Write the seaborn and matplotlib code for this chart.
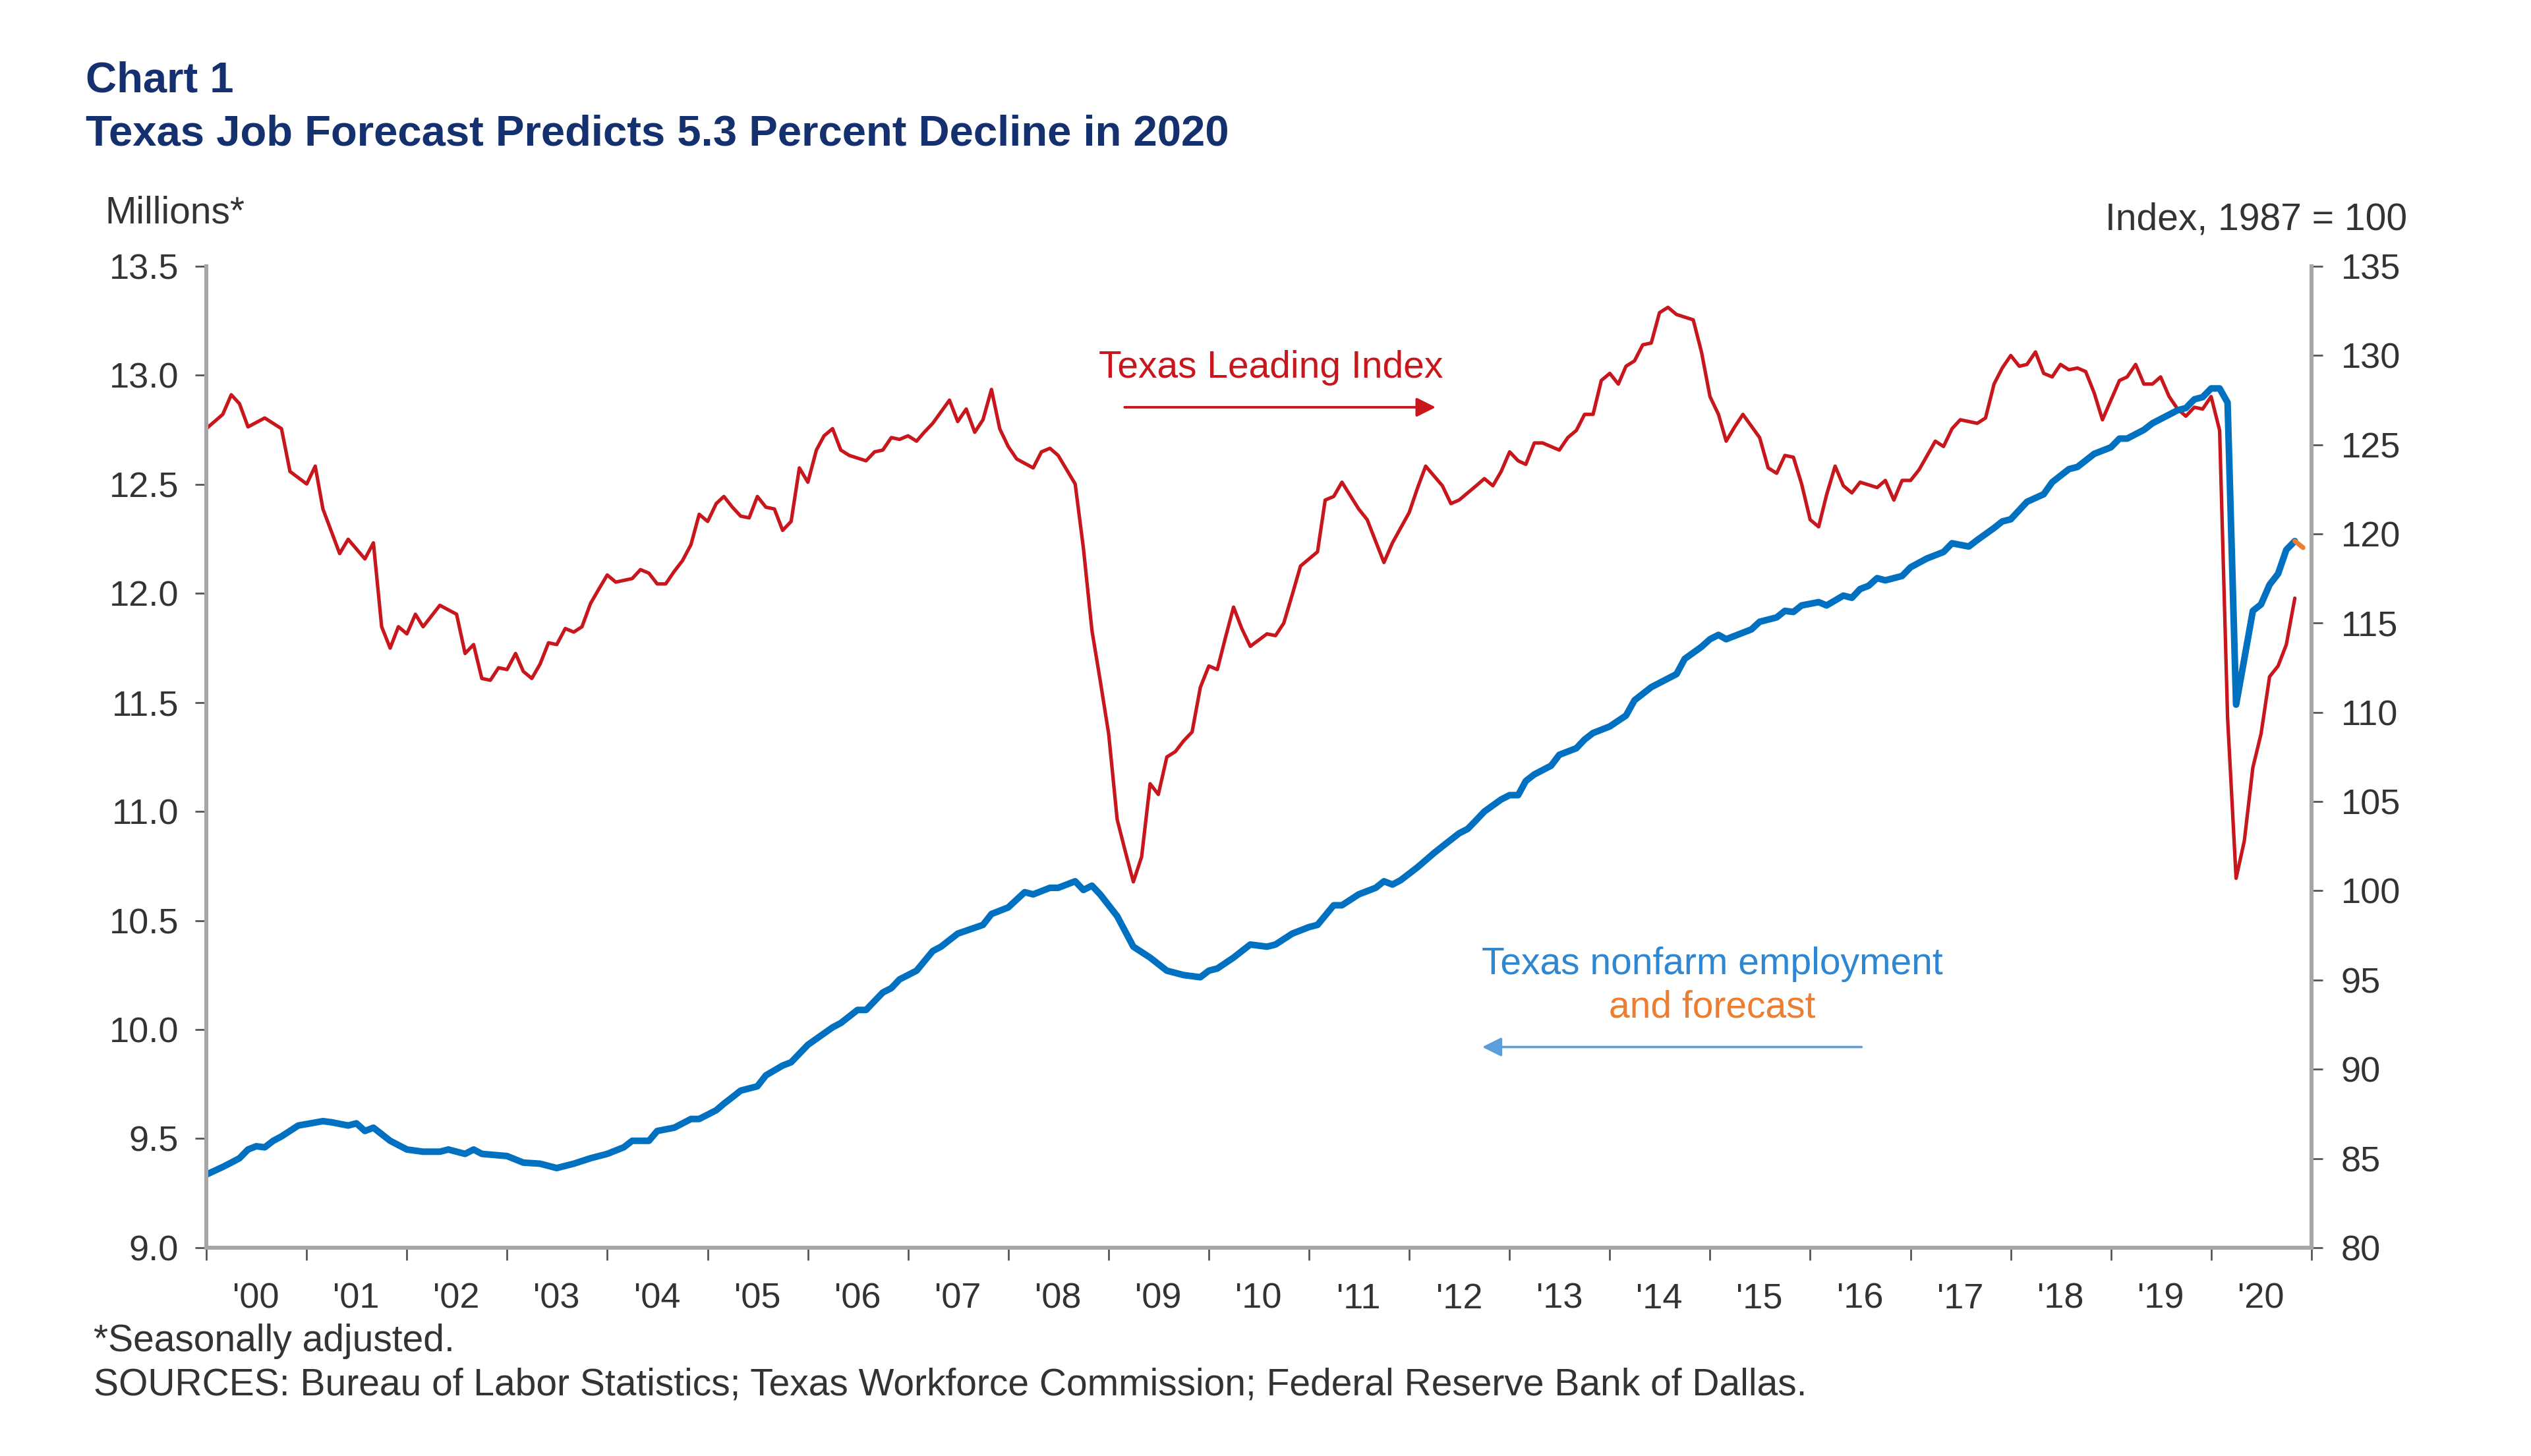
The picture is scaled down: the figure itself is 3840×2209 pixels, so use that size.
import matplotlib
matplotlib.use("Agg")
import matplotlib.pyplot as plt
import matplotlib.dates as mdates
import matplotlib.ticker as mticker
import pandas as pd
import seaborn as sns

# Texas Leading Index (right axis)
lead_month = ["2000-01", "2000-03", "2000-04", "2000-05", "2000-06", "2000-08", "2000-10", "2000-11",
              "2001-01", "2001-02", "2001-03", "2001-05", "2001-06", "2001-08", "2001-09", "2001-10",
              "2001-11", "2001-12", "2002-01", "2002-02", "2002-03", "2002-05", "2002-07", "2002-08",
              "2002-09", "2002-10", "2002-11", "2002-12", "2003-01", "2003-02", "2003-03", "2003-04",
              "2003-05", "2003-06", "2003-07", "2003-08", "2003-09", "2003-10", "2003-11", "2003-12",
              "2004-01", "2004-02", "2004-04", "2004-05", "2004-06", "2004-07", "2004-08", "2004-09",
              "2004-10", "2004-11", "2004-12", "2005-01", "2005-02", "2005-03", "2005-04", "2005-05",
              "2005-06", "2005-07", "2005-08", "2005-09", "2005-10", "2005-11", "2005-12", "2006-01",
              "2006-02", "2006-03", "2006-04", "2006-05", "2006-06", "2006-08", "2006-09", "2006-10",
              "2006-11", "2006-12", "2007-01", "2007-02", "2007-03", "2007-04", "2007-06", "2007-07",
              "2007-08", "2007-09", "2007-10", "2007-11", "2007-12", "2008-01", "2008-02", "2008-04",
              "2008-05", "2008-06", "2008-07", "2008-09", "2008-10", "2008-11", "2008-12", "2009-01",
              "2009-02", "2009-03", "2009-04", "2009-05", "2009-06", "2009-07", "2009-08", "2009-09",
              "2009-10", "2009-11", "2009-12", "2010-01", "2010-02", "2010-03", "2010-04", "2010-05",
              "2010-06", "2010-08", "2010-09", "2010-10", "2010-11", "2010-12", "2011-02", "2011-03",
              "2011-04", "2011-05", "2011-07", "2011-08", "2011-10", "2011-11", "2012-01", "2012-02",
              "2012-03", "2012-05", "2012-06", "2012-07", "2012-09", "2012-10", "2012-11", "2012-12",
              "2013-01", "2013-02", "2013-03", "2013-04", "2013-05", "2013-07", "2013-08", "2013-09",
              "2013-10", "2013-11", "2013-12", "2014-01", "2014-02", "2014-03", "2014-04", "2014-05",
              "2014-06", "2014-07", "2014-08", "2014-09", "2014-11", "2014-12", "2015-01", "2015-02",
              "2015-03", "2015-04", "2015-05", "2015-07", "2015-08", "2015-09", "2015-10", "2015-11",
              "2015-12", "2016-01", "2016-02", "2016-03", "2016-04", "2016-05", "2016-06", "2016-07",
              "2016-09", "2016-10", "2016-11", "2016-12", "2017-01", "2017-02", "2017-04", "2017-05",
              "2017-06", "2017-07", "2017-09", "2017-10", "2017-11", "2017-12", "2018-01", "2018-02",
              "2018-03", "2018-04", "2018-05", "2018-06", "2018-07", "2018-08", "2018-09", "2018-10",
              "2018-11", "2018-12", "2019-01", "2019-02", "2019-03", "2019-04", "2019-05", "2019-06",
              "2019-07", "2019-08", "2019-09", "2019-10", "2019-11", "2019-12", "2020-01", "2020-02",
              "2020-03", "2020-04", "2020-05", "2020-06", "2020-07", "2020-08", "2020-09", "2020-10",
              "2020-11"]
lead_value = [125.9, 126.7, 127.8, 127.3, 126.0, 126.5, 125.9, 123.5,
              122.8, 123.8, 121.4, 118.9, 119.7, 118.6, 119.5, 114.8,
              113.6, 114.8, 114.4, 115.5, 114.8, 116.0, 115.5, 113.3,
              113.8, 111.9, 111.8, 112.5, 112.4, 113.3, 112.3, 111.9,
              112.7, 113.9, 113.8, 114.7, 114.5, 114.8, 116.1, 116.9,
              117.7, 117.3, 117.5, 118.0, 117.8, 117.2, 117.2, 117.9,
              118.5, 119.4, 121.1, 120.7, 121.7, 122.1, 121.5, 121.0,
              120.9, 122.1, 121.5, 121.4, 120.2, 120.7, 123.7, 122.9,
              124.7, 125.5, 125.9, 124.7, 124.4, 124.1, 124.6, 124.7,
              125.4, 125.3, 125.5, 125.2, 125.7, 126.2, 127.5, 126.3,
              127.0, 125.7, 126.4, 128.1, 125.9, 124.9, 124.2, 123.7,
              124.6, 124.8, 124.4, 122.8, 119.2, 114.6, 111.8, 108.8,
              104.0, 102.3, 100.5, 101.9, 106.0, 105.4, 107.5, 107.8,
              108.4, 108.9, 111.4, 112.6, 112.4, 114.1, 115.9, 114.7,
              113.7, 114.4, 114.3, 115.0, 116.6, 118.2, 119.0, 121.9,
              122.1, 122.9, 121.4, 120.8, 118.4, 119.5, 121.2, 122.6,
              123.8, 122.7, 121.7, 121.9, 122.7, 123.1, 122.7, 123.5,
              124.6, 124.1, 123.9, 125.1, 125.1, 124.7, 125.4, 125.8,
              126.7, 126.7, 128.6, 129.0, 128.4, 129.4, 129.7, 130.6,
              130.7, 132.4, 132.7, 132.3, 132.0, 130.2, 127.7, 126.7,
              125.2, 126.0, 126.7, 125.4, 123.7, 123.4, 124.4, 124.3,
              122.8, 120.8, 120.4, 122.2, 123.8, 122.7, 122.3, 122.9,
              122.6, 123.0, 121.9, 123.0, 123.0, 123.6, 125.2, 124.9,
              125.9, 126.4, 126.2, 126.5, 128.4, 129.3, 130.0, 129.4,
              129.5, 130.2, 129.0, 128.8, 129.5, 129.2, 129.3, 129.1,
              127.9, 126.4, 127.5, 128.6, 128.8, 129.5, 128.4, 128.4,
              128.8, 127.7, 127.0, 126.6, 127.1, 127.0, 127.7, 125.8,
              109.7, 100.7, 102.8, 106.9, 108.8, 112.0, 112.6, 113.8,
              116.4]

# Texas nonfarm employment, millions (left axis)
emp_month = ["2000-01", "2000-03", "2000-04", "2000-05", "2000-06", "2000-07", "2000-08", "2000-09",
             "2000-10", "2000-12", "2001-03", "2001-04", "2001-06", "2001-07", "2001-08", "2001-09",
             "2001-11", "2002-01", "2002-03", "2002-05", "2002-06", "2002-08", "2002-09", "2002-10",
             "2003-01", "2003-03", "2003-05", "2003-07", "2003-09", "2003-11", "2004-01", "2004-03",
             "2004-04", "2004-06", "2004-07", "2004-09", "2004-11", "2004-12", "2005-02", "2005-03",
             "2005-04", "2005-05", "2005-07", "2005-08", "2005-10", "2005-11", "2006-01", "2006-04",
             "2006-05", "2006-07", "2006-08", "2006-10", "2006-11", "2006-12", "2007-02", "2007-04",
             "2007-05", "2007-07", "2007-10", "2007-11", "2008-01", "2008-03", "2008-04", "2008-06",
             "2008-07", "2008-09", "2008-10", "2008-11", "2008-12", "2009-02", "2009-04", "2009-06",
             "2009-08", "2009-10", "2009-12", "2010-01", "2010-02", "2010-04", "2010-06", "2010-08",
             "2010-09", "2010-11", "2011-01", "2011-02", "2011-04", "2011-05", "2011-07", "2011-09",
             "2011-10", "2011-11", "2011-12", "2012-02", "2012-04", "2012-05", "2012-07", "2012-08",
             "2012-09", "2012-10", "2012-12", "2013-01", "2013-02", "2013-03", "2013-04", "2013-06",
             "2013-07", "2013-09", "2013-10", "2013-11", "2014-01", "2014-03", "2014-04", "2014-06",
             "2014-09", "2014-10", "2014-12", "2015-01", "2015-02", "2015-03", "2015-05", "2015-06",
             "2015-07", "2015-09", "2015-10", "2015-11", "2015-12", "2016-02", "2016-03", "2016-05",
             "2016-06", "2016-07", "2016-08", "2016-09", "2016-10", "2016-12", "2017-01", "2017-03",
             "2017-05", "2017-06", "2017-08", "2017-09", "2017-11", "2017-12", "2018-01", "2018-03",
             "2018-05", "2018-06", "2018-08", "2018-09", "2018-11", "2019-01", "2019-02", "2019-03",
             "2019-05", "2019-06", "2019-08", "2019-09", "2019-10", "2019-11", "2019-12", "2020-01",
             "2020-02", "2020-03", "2020-04", "2020-05", "2020-06", "2020-07", "2020-08", "2020-09",
             "2020-10", "2020-11"]
emp_value = [9.335, 9.37, 9.39, 9.41, 9.45, 9.465, 9.46, 9.49,
             9.51, 9.56, 9.58, 9.575, 9.56, 9.57, 9.535, 9.55,
             9.49, 9.45, 9.44, 9.44, 9.45, 9.43, 9.45, 9.43,
             9.42, 9.39, 9.385, 9.365, 9.385, 9.41, 9.43, 9.46,
             9.49, 9.49, 9.535, 9.55, 9.59, 9.59, 9.63, 9.66,
             9.69, 9.72, 9.74, 9.79, 9.835, 9.85, 9.93, 10.01,
             10.03, 10.09, 10.09, 10.17, 10.19, 10.23, 10.27, 10.36,
             10.38, 10.44, 10.48, 10.53, 10.56, 10.63, 10.62, 10.65,
             10.65, 10.68, 10.64, 10.66, 10.62, 10.52, 10.38, 10.33,
             10.27, 10.25, 10.24, 10.27, 10.28, 10.33, 10.39, 10.38,
             10.39, 10.44, 10.47, 10.48, 10.57, 10.57, 10.62, 10.65,
             10.68, 10.665, 10.685, 10.745, 10.81, 10.84, 10.90, 10.92,
             10.96, 11.00, 11.055, 11.075, 11.075, 11.14, 11.17, 11.21,
             11.26, 11.29, 11.33, 11.36, 11.39, 11.44, 11.51, 11.57,
             11.63, 11.70, 11.755, 11.79, 11.81, 11.79, 11.82, 11.835,
             11.87, 11.89, 11.92, 11.915, 11.945, 11.96, 11.945, 11.99,
             11.98, 12.02, 12.035, 12.07, 12.06, 12.08, 12.12, 12.16,
             12.19, 12.23, 12.215, 12.245, 12.30, 12.33, 12.34, 12.42,
             12.455, 12.51, 12.57, 12.58, 12.64, 12.67, 12.71, 12.71,
             12.75, 12.78, 12.82, 12.84, 12.85, 12.89, 12.90, 12.94,
             12.94, 12.875, 11.49, 11.70, 11.92, 11.95, 12.04, 12.09,
             12.20, 12.24]

# forecast tail
fcst_month = ["2020-11", "2020-12"]
fcst_value = [12.24, 12.21]

year_labels = ["'00", "'01", "'02", "'03", "'04", "'05", "'06", "'07", "'08", "'09", "'10",
               "'11", "'12", "'13", "'14", "'15", "'16", "'17", "'18", "'19", "'20"]
left_ticks = [9.0, 9.5, 10.0, 10.5, 11.0, 11.5, 12.0, 12.5, 13.0, 13.5]
right_ticks = [80, 85, 90, 95, 100, 105, 110, 115, 120, 125, 130, 135]

RED = "#c8161d"
BLUE = "#0070c0"
ORANGE = "#ed7d31"
NAVY = "#14306e"
GREY = "#a6a6a6"
TXT = "#333333"
FS = 20.5      # notes and call-outs
TICK_FS = 19.5

sns.set_style("ticks")
plt.rcParams["font.family"] = ["Liberation Sans", "DejaVu Sans"]

lead = pd.DataFrame({"date": pd.to_datetime(lead_month), "value": lead_value})
emp = pd.DataFrame({"date": pd.to_datetime(emp_month), "value": emp_value})
fcst = pd.DataFrame({"date": pd.to_datetime(fcst_month), "value": fcst_value})

fig = plt.figure(figsize=(19.2, 11.045), dpi=200)
ax = fig.add_axes([0.0815, 0.1431, 0.8318, 0.674])
ax2 = ax.twinx()

sns.lineplot(data=lead, x="date", y="value", ax=ax2, color=RED, lw=1.9)
sns.lineplot(data=emp, x="date", y="value", ax=ax, color=BLUE, lw=3.6)
sns.lineplot(data=fcst, x="date", y="value", ax=ax, color=ORANGE, lw=2.6)

# blue line sits above the red one
ax.set_zorder(ax2.get_zorder() + 1)
ax.patch.set_visible(False)

ax.set_xlim(pd.Timestamp("2000-01-01"), pd.Timestamp("2021-01-01"))
ax.set_ylim(9.0, 13.5)
ax2.set_ylim(80, 135)
ax.set_xlabel("")
ax.set_ylabel("")
ax2.set_ylabel("")

ax.set_yticks(left_ticks)
ax.yaxis.set_major_formatter(mticker.FormatStrFormatter("%.1f"))
ax2.set_yticks(right_ticks)

# year boundaries get the tick marks, labels sit mid-year
ax.xaxis.set_major_locator(mdates.YearLocator())
ax.xaxis.set_major_formatter(mticker.NullFormatter())
mid_year = mdates.date2num(pd.date_range("2000-07-01", periods=len(year_labels), freq="12MS"))
ax.xaxis.set_minor_locator(mticker.FixedLocator(mid_year))
ax.xaxis.set_minor_formatter(mticker.FixedFormatter(year_labels))

for a in (ax, ax2):
    for s in a.spines.values():
        s.set_visible(False)
for side in ("left", "bottom"):
    ax.spines[side].set_visible(True)
    ax.spines[side].set_color(GREY)
    ax.spines[side].set_linewidth(2.2)
ax2.spines["right"].set_visible(True)
ax2.spines["right"].set_color(GREY)
ax2.spines["right"].set_linewidth(2.2)

ax.tick_params(axis="y", which="major", direction="out", length=6, width=1,
               color="#555555", labelsize=TICK_FS, labelcolor=TXT, pad=9)
ax2.tick_params(axis="y", which="major", direction="out", length=6, width=1,
                color="#555555", labelsize=TICK_FS, labelcolor=TXT, pad=10)
ax.tick_params(axis="x", which="major", direction="out", length=7, width=1, color="#555555")
ax.tick_params(axis="x", which="minor", length=0, labelsize=TICK_FS, labelcolor=TXT, pad=19)

# series call-outs
ax2.text(mdates.date2num(pd.Timestamp("2010-08-15")), 129.3, "Texas Leading Index",
         color=RED, fontsize=FS, ha="center", va="center")
ax2.annotate("", xy=(mdates.date2num(pd.Timestamp("2012-04-20")), 127.1),
             xytext=(mdates.date2num(pd.Timestamp("2009-02-15")), 127.1),
             arrowprops=dict(arrowstyle="-|>", color=RED, lw=1.4, mutation_scale=22))

ax.text(mdates.date2num(pd.Timestamp("2015-01-10")), 10.30, "Texas nonfarm employment",
        color="#2f86d1", fontsize=FS, ha="center", va="center")
ax.text(mdates.date2num(pd.Timestamp("2015-01-10")), 10.10, "and forecast",
        color=ORANGE, fontsize=FS, ha="center", va="center")
ax.annotate("", xy=(mdates.date2num(pd.Timestamp("2012-09-10")), 9.92),
            xytext=(mdates.date2num(pd.Timestamp("2016-07-20")), 9.92),
            arrowprops=dict(arrowstyle="-|>", color="#5a9fdc", lw=1.3, mutation_scale=22))

fig.text(0.0338, 0.9446, "Chart 1", color=NAVY, fontsize=23.5, fontweight="bold", va="center")
fig.text(0.0338, 0.908, "Texas Job Forecast Predicts 5.3 Percent Decline in 2020",
         color=NAVY, fontsize=23.5, fontweight="bold", va="center")
fig.text(0.0415, 0.8537, "Millions*", color=TXT, fontsize=FS, va="center")
fig.text(0.951, 0.849, "Index, 1987 = 100", color=TXT, fontsize=FS, va="center", ha="right")
fig.text(0.037, 0.0787, "*Seasonally adjusted.", color=TXT, fontsize=FS, va="center")
fig.text(0.037, 0.0488,
         "SOURCES: Bureau of Labor Statistics; Texas Workforce Commission; Federal Reserve Bank of Dallas.",
         color=TXT, fontsize=FS, va="center")

fig.savefig("out.png", dpi=200, facecolor="white")
